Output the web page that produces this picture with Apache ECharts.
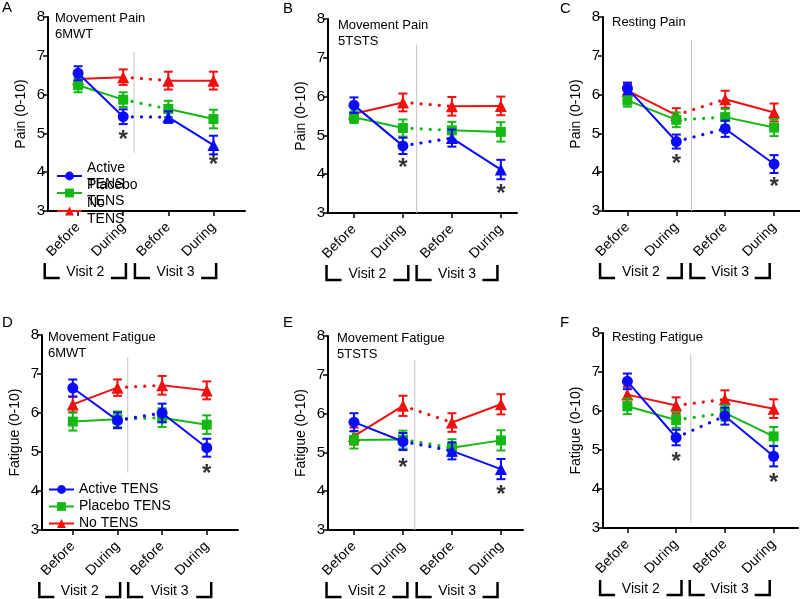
<!DOCTYPE html>
<html><head><meta charset="utf-8">
<script src="https://cdn.jsdelivr.net/npm/echarts@6/dist/echarts.min.js"></script>
<style>html,body{margin:0;padding:0;background:#fff}#c{width:800px;height:599px}</style>
</head><body><div id="c"></div>
<script>
// ---------- data ----------
const tickLabels = ['Before', 'During', 'Before', 'During'];
const visitLabels = ['Visit 2', 'Visit 3'];
const groupNames = ['Active TENS', 'Placebo TENS', 'No TENS'];

const A_active = [6.55, 5.43, 5.42, 4.70];  const A_activeErr = [0.18, 0.19, 0.15, 0.24];
const A_placebo = [6.24, 5.87, 5.63, 5.37]; const A_placeboErr = [0.18, 0.19, 0.21, 0.24];
const A_none = [6.40, 6.45, 6.36, 6.36];    const A_noneErr = [0.20, 0.20, 0.23, 0.23];

const B_active = [5.78, 4.73, 4.93, 4.12];  const B_activeErr = [0.20, 0.21, 0.22, 0.25];
const B_placebo = [5.47, 5.19, 5.13, 5.09]; const B_placeboErr = [0.15, 0.22, 0.22, 0.25];
const B_none = [5.56, 5.85, 5.75, 5.76];    const B_noneErr = [0.20, 0.23, 0.24, 0.24];

const C_active = [6.16, 4.79, 5.12, 4.21];  const C_activeErr = [0.15, 0.18, 0.21, 0.23];
const C_placebo = [5.85, 5.35, 5.42, 5.15]; const C_placeboErr = [0.16, 0.19, 0.21, 0.22];
const C_none = [6.10, 5.47, 5.88, 5.54];    const C_noneErr = [0.17, 0.18, 0.22, 0.23];

const D_active = [6.64, 5.81, 6.00, 5.11];  const D_activeErr = [0.22, 0.20, 0.24, 0.23];
const D_placebo = [5.78, 5.84, 5.88, 5.70]; const D_placeboErr = [0.23, 0.20, 0.24, 0.24];
const D_none = [6.22, 6.65, 6.71, 6.58];    const D_noneErr = [0.20, 0.21, 0.24, 0.23];

const E_active = [5.78, 5.28, 5.04, 4.57];  const E_activeErr = [0.23, 0.22, 0.22, 0.26];
const E_placebo = [5.32, 5.33, 5.12, 5.31]; const E_placeboErr = [0.22, 0.23, 0.22, 0.26];
const E_none = [5.42, 6.20, 5.77, 6.24];    const E_noneErr = [0.22, 0.26, 0.24, 0.26];

const F_active = [6.76, 5.32, 5.87, 4.84];  const F_activeErr = [0.20, 0.20, 0.22, 0.26];
const F_placebo = [6.12, 5.77, 5.95, 5.35]; const F_placeboErr = [0.20, 0.20, 0.20, 0.24];
const F_none = [6.42, 6.14, 6.30, 6.06];    const F_noneErr = [0.20, 0.21, 0.23, 0.24];

const panelTitles = ['Movement Pain\n6MWT', 'Movement Pain\n5TSTS', 'Resting Pain',
                     'Movement Fatigue\n6MWT', 'Movement Fatigue\n5TSTS', 'Resting Fatigue'];
const panelLetters = ['A', 'B', 'C', 'D', 'E', 'F'];
const yNames = ['Pain (0-10)', 'Pain (0-10)', 'Pain (0-10)', 'Fatigue (0-10)', 'Fatigue (0-10)', 'Fatigue (0-10)'];

const panelData = [
  [[A_active, A_activeErr], [A_placebo, A_placeboErr], [A_none, A_noneErr]],
  [[B_active, B_activeErr], [B_placebo, B_placeboErr], [B_none, B_noneErr]],
  [[C_active, C_activeErr], [C_placebo, C_placeboErr], [C_none, C_noneErr]],
  [[D_active, D_activeErr], [D_placebo, D_placeboErr], [D_none, D_noneErr]],
  [[E_active, E_activeErr], [E_placebo, E_placeboErr], [E_none, E_noneErr]],
  [[F_active, F_activeErr], [F_placebo, F_placeboErr], [F_none, F_noneErr]]
];

// ---------- layout / style ----------
const FF = '"Liberation Sans", Arial, Helvetica, sans-serif';
const colors = ['#0a0aff', '#14b814', '#f01010'];
const symbols = ['circle', 'rect', 'triangle'];
const symbolSizes = [11, 10, 12];
const layouts = [
  {grid: [48, 17, 197, 194], x: [-0.667, 3.70], sep: [1.24, 4.5, 7.1], br: [[-0.74, 1.06], [1.26, 3.06]], title: [55, 10], letter: [2, 0], stars: [[1, 4.96], [3, 4.30]], v3tri: true},
  {grid: [328, 19, 189, 194], x: [-0.53, 3.33], sep: [1.28, 3.0, 7.34], br: [[-0.56, 1.11], [1.28, 2.93]], title: [338, 17], letter: [283, 1], stars: [[1, 4.27], [3, 3.60]], v3tri: true},
  {grid: [603, 17, 197, 194], x: [-0.50, 3.53], sep: [1.31, 3.0, 7.41], br: [[-0.56, 1.11], [1.29, 2.91]], title: [612, 14], letter: [560, 1], stars: [[1, 4.33], [3, 3.73]], v3tri: false},
  {grid: [42, 335, 196, 195], x: [-0.69, 3.70], sep: [1.23, 4.47, 7.43], br: [[-0.75, 1.06], [1.24, 3.10]], title: [48, 329], letter: [2, 315], stars: [[3, 4.56]], v3tri: false},
  {grid: [328, 336, 195, 194], x: [-0.53, 3.45], sep: [1.24, 3.0, 7.38], br: [[-0.56, 1.09], [1.28, 2.93]], title: [337, 330], letter: [283, 315], stars: [[1, 4.72], [3, 4.03]], v3tri: true},
  {grid: [603, 333, 195, 195], x: [-0.50, 3.50], sep: [1.30, 3.13, 7.44], br: [[-0.56, 1.11], [1.28, 2.92]], title: [612, 329], letter: [560, 315], stars: [[1, 4.80], [3, 4.26]], v3tri: false}
];

const grids = [], xAxes = [], yAxes = [], titles = [], series = [];
const drawOrder = [2, 1, 0]; // No TENS bottom, Active on top

function errRender(color) {
  return function (params, api) {
    const x = api.value(0), m = api.value(1), e = api.value(2);
    const t = api.coord([x, m + e]), b = api.coord([x, m - e]);
    const w = 4.5;
    const st = {stroke: color, lineWidth: 2};
    return {type: 'group', children: [
      {type: 'line', shape: {x1: t[0], y1: t[1], x2: b[0], y2: b[1]}, style: st},
      {type: 'line', shape: {x1: t[0] - w, y1: t[1], x2: t[0] + w, y2: t[1]}, style: st},
      {type: 'line', shape: {x1: b[0] - w, y1: b[1], x2: b[0] + w, y2: b[1]}, style: st}
    ]};
  };
}

layouts.forEach((L, i) => {
  grids.push({left: L.grid[0], top: L.grid[1], width: L.grid[2], height: L.grid[3]});
  xAxes.push({
    type: 'value', gridIndex: i, min: L.x[0], max: L.x[1],
    axisLine: {onZero: false, lineStyle: {color: '#000', width: 2}},
    axisTick: {show: true, customValues: [0, 1, 2, 3], length: 5, lineStyle: {color: '#000', width: 1.5}},
    axisLabel: {customValues: [0, 1, 2, 3], formatter: v => tickLabels[Math.round(v)], rotate: 45,
      fontSize: 14, color: '#000', margin: 14, fontFamily: FF},
    splitLine: {show: false}
  });
  yAxes.push({
    type: 'value', gridIndex: i, min: 3, max: 8, interval: 1,
    name: yNames[i], nameLocation: 'middle', nameGap: 20,
    nameTextStyle: {fontSize: 14, color: '#000', fontFamily: FF},
    axisLine: {show: true, onZero: false, lineStyle: {color: '#000', width: 2}},
    axisTick: {show: true, length: 5, lineStyle: {color: '#000', width: 1.5}},
    axisLabel: {fontSize: 15, color: '#000', margin: 3, fontFamily: FF},
    splitLine: {show: false}
  });
  titles.push({text: panelTitles[i], left: L.title[0], top: L.title[1], padding: 0,
    textStyle: {fontSize: 13, fontWeight: 'normal', color: '#000', lineHeight: 16, fontFamily: FF}});
  titles.push({text: panelLetters[i], left: L.letter[0], top: L.letter[1], padding: 0,
    textStyle: {fontSize: 15, fontWeight: 'normal', color: '#000', fontFamily: FF}});

  // separator
  series.push({type: 'line', xAxisIndex: i, yAxisIndex: i, symbol: 'none', silent: true, z: 1,
    lineStyle: {color: '#c4c4c4', width: 1}, data: [[L.sep[0], L.sep[1]], [L.sep[0], L.sep[2]]]});

  drawOrder.forEach((g, k) => {
    const vals = panelData[i][g][0], errs = panelData[i][g][1];
    const z = 2 + k;
    const col = colors[g];
    series.push({type: 'custom', xAxisIndex: i, yAxisIndex: i, z: z, silent: true,
      renderItem: errRender(col), encode: {x: 0, y: 1},
      data: vals.map((v, j) => [j, v, errs[j]])});
    series.push({type: 'line', name: groupNames[g], xAxisIndex: i, yAxisIndex: i, z: z,
      symbol: symbols[g], symbolSize: symbolSizes[g], itemStyle: {color: col},
      lineStyle: {color: col, width: 2},
      data: [[0, vals[0]], [1, vals[1]]]});
    series.push({type: 'line', xAxisIndex: i, yAxisIndex: i, z: z - 0.5, symbol: 'none', silent: true,
      lineStyle: {color: col, width: 3.2, type: [0.1, 9], cap: 'round'},
      data: [[1, vals[1]], [2, vals[2]]]});
    const sym3 = (g === 0 && L.v3tri) ? 'triangle' : symbols[g];
    const size3 = (g === 0 && L.v3tri) ? symbolSizes[2] : symbolSizes[g];
    series.push({type: 'line', name: groupNames[g], xAxisIndex: i, yAxisIndex: i, z: z,
      symbol: sym3, symbolSize: size3, itemStyle: {color: col},
      lineStyle: {color: col, width: 2},
      data: [[2, vals[2]], [3, vals[3]]]});
  });

  // asterisks
  series.push({type: 'scatter', xAxisIndex: i, yAxisIndex: i, z: 10, silent: true,
    symbolSize: 1, itemStyle: {color: 'rgba(0,0,0,0)'},
    label: {show: true, position: 'inside', formatter: '*', fontSize: 24, fontWeight: 'bold', color: '#000', offset: [0, 5], fontFamily: FF},
    data: L.stars});

  // visit brackets
  series.push({type: 'custom', xAxisIndex: i, yAxisIndex: i, clip: false, silent: true, z: 10,
    encode: {x: [0, 1]},
    data: L.br.map((b, j) => [b[0], b[1], j]),
    renderItem: function (params, api) {
      const pl = api.coord([api.value(0), 3]), pr = api.coord([api.value(1), 3]);
      const y0 = pl[1] + 52, y1 = pl[1] + 67, arm = 15;
      const st = {stroke: '#000', lineWidth: 2.5, fill: null};
      return {type: 'group', children: [
        {type: 'polyline', shape: {points: [[pl[0], y0], [pl[0], y1], [pl[0] + arm, y1]]}, style: st},
        {type: 'polyline', shape: {points: [[pr[0] - arm, y1], [pr[0], y1], [pr[0], y0]]}, style: st},
        {type: 'text', style: {text: visitLabels[api.value(2)], x: (pl[0] + pr[0]) / 2, y: pl[1] + 61,
          align: 'center', verticalAlign: 'middle', fontSize: 14, fill: '#000', fontFamily: FF}}
      ]};
    }});
});

const legendBase = {orient: 'vertical', itemWidth: 25, itemHeight: 11, selectedMode: false, padding: 0,
  textStyle: {fontSize: 14, color: '#000', fontFamily: FF}};
const legends = [
  Object.assign({}, legendBase, {data: [groupNames[0]], left: 56, top: 160, formatter: n => n.replace(' ', '\n'),
    textStyle: {fontSize: 14, color: '#000', lineHeight: 16, fontFamily: FF}}),
  Object.assign({}, legendBase, {data: [groupNames[1]], left: 56, top: 177, formatter: n => n.replace(' ', '\n'),
    textStyle: {fontSize: 14, color: '#000', lineHeight: 16, fontFamily: FF}}),
  Object.assign({}, legendBase, {data: [groupNames[2]], left: 56, top: 195, formatter: n => n.replace(' ', '\n'),
    textStyle: {fontSize: 14, color: '#000', lineHeight: 16, fontFamily: FF}}),
  Object.assign({}, legendBase, {data: groupNames, left: 48, top: 482, itemGap: 2,
    textStyle: {fontSize: 14, color: '#000', lineHeight: 15, fontFamily: FF}})
];

const chart = echarts.init(document.getElementById('c'), null, {renderer: 'canvas'});
chart.setOption({
  animation: false,
  backgroundColor: '#fff',
  textStyle: {fontFamily: FF},
  title: titles, grid: grids, xAxis: xAxes, yAxis: yAxes, legend: legends, series: series
});
</script></body></html>
